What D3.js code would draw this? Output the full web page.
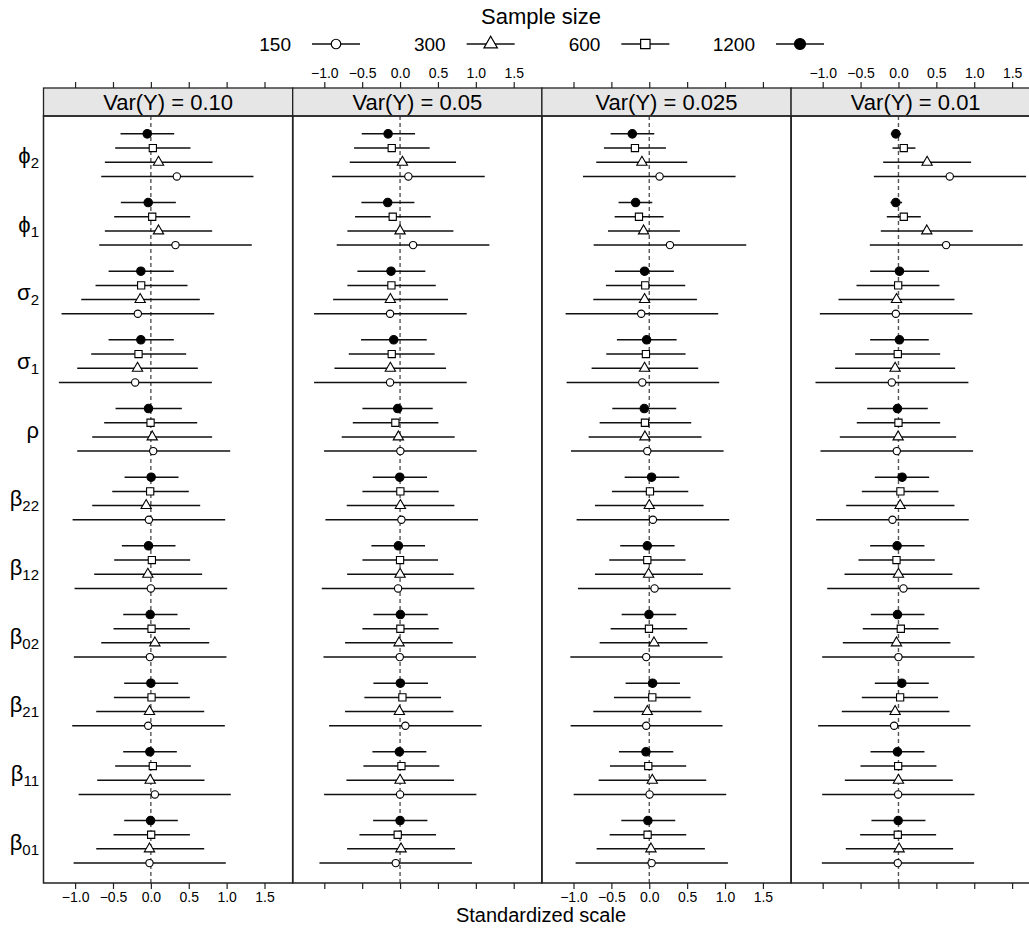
<!DOCTYPE html>
<html><head><meta charset="utf-8">
<script src="https://cdn.jsdelivr.net/npm/d3@7"></script>
<style>body{margin:0;background:#fff}svg{display:block}text{font-family:"Liberation Sans",Arial,Helvetica,sans-serif;fill:#000}</style>
</head><body><svg id="c" width="1029" height="930"></svg>
<script>
// ---------- data ----------
const panels = ["Var(Y) = 0.10", "Var(Y) = 0.05", "Var(Y) = 0.025", "Var(Y) = 0.01"];
const paramBase = ["ϕ","ϕ","σ","σ","ρ","β","β","β","β","β","β"];
const paramSub  = ["2","1","2","1","","22","12","02","21","11","01"];
const sizes = ["150","300","600","1200"];
// rows within each parameter group, top to bottom
const rowSizes = ["1200","600","300","150"];
const xTicks = [-1.0,-0.5,0.0,0.5,1.0,1.5];

// each row: [1200, 600, 300, 150]
const est0 = [[-0.048,0.026,0.101,0.343],[-0.035,0.018,0.101,0.325],[-0.132,-0.128,-0.141,-0.172],[-0.132,-0.163,-0.176,-0.207],[-0.031,-0.004,0.018,0.031],[0.004,-0.009,-0.062,-0.026],[-0.031,0.013,-0.040,0.000],[-0.009,0.009,0.053,-0.013],[0.000,0.009,-0.018,-0.035],[-0.013,0.026,-0.009,0.053],[-0.004,0.004,-0.018,-0.018]];
const lo0  = [[-0.400,-0.471,-0.607,-0.655],[-0.396,-0.484,-0.607,-0.682],[-0.558,-0.730,-0.919,-1.179],[-0.558,-0.787,-0.972,-1.214],[-0.466,-0.616,-0.774,-0.972],[-0.347,-0.510,-0.774,-1.033],[-0.383,-0.484,-0.748,-1.007],[-0.365,-0.493,-0.655,-1.016],[-0.352,-0.488,-0.721,-1.038],[-0.365,-0.471,-0.708,-0.954],[-0.352,-0.493,-0.721,-1.020]];
const hi0  = [[0.308,0.523,0.814,1.354],[0.330,0.519,0.809,1.332],[0.303,0.484,0.646,0.836],[0.303,0.466,0.620,0.805],[0.409,0.611,0.809,1.047],[0.365,0.501,0.651,0.981],[0.325,0.519,0.677,1.007],[0.352,0.515,0.770,0.998],[0.361,0.515,0.704,0.976],[0.343,0.528,0.708,1.055],[0.356,0.515,0.704,0.989]];

const est1 = [[-0.158,-0.110,0.031,0.110],[-0.163,-0.097,0.000,0.172],[-0.119,-0.114,-0.128,-0.132],[-0.084,-0.110,-0.128,-0.132],[-0.031,-0.062,-0.022,0.004],[-0.004,0.004,0.004,0.018],[-0.022,0.000,0.000,-0.026],[0.004,0.004,-0.013,-0.004],[0.004,0.031,-0.009,0.070],[-0.009,0.018,0.000,0.000],[0.000,-0.031,0.013,-0.057]];
const lo1  = [[-0.506,-0.607,-0.664,-0.897],[-0.510,-0.594,-0.695,-0.836],[-0.563,-0.695,-0.884,-1.135],[-0.515,-0.677,-0.866,-1.135],[-0.497,-0.624,-0.770,-1.003],[-0.361,-0.497,-0.704,-0.985],[-0.378,-0.497,-0.699,-1.033],[-0.352,-0.497,-0.726,-1.011],[-0.352,-0.471,-0.726,-0.937],[-0.365,-0.484,-0.708,-1.003],[-0.356,-0.536,-0.699,-1.064]];
const hi1  = [[0.198,0.391,0.739,1.117],[0.189,0.405,0.704,1.179],[0.334,0.471,0.633,0.880],[0.352,0.457,0.607,0.880],[0.431,0.506,0.721,1.011],[0.356,0.510,0.717,1.029],[0.330,0.501,0.708,0.981],[0.365,0.510,0.695,1.003],[0.369,0.541,0.704,1.077],[0.347,0.519,0.712,1.007],[0.361,0.475,0.726,0.950]];

const est2 = [[-0.224,-0.189,-0.097,0.136],[-0.180,-0.136,-0.075,0.273],[-0.062,-0.053,-0.062,-0.106],[-0.035,-0.044,-0.062,-0.092],[-0.066,-0.057,-0.057,-0.026],[0.031,0.009,0.000,0.048],[-0.026,-0.026,-0.009,0.070],[-0.004,-0.004,0.062,-0.040],[0.044,0.040,-0.026,-0.040],[-0.044,-0.013,0.040,0.004],[-0.018,-0.022,0.022,0.031]];
const lo2  = [[-0.510,-0.598,-0.699,-0.875],[-0.405,-0.457,-0.545,-0.734],[-0.453,-0.572,-0.739,-1.104],[-0.427,-0.567,-0.761,-1.091],[-0.488,-0.655,-0.800,-1.033],[-0.325,-0.493,-0.717,-0.959],[-0.383,-0.528,-0.717,-0.941],[-0.365,-0.510,-0.655,-1.042],[-0.312,-0.466,-0.739,-1.038],[-0.400,-0.519,-0.668,-0.998],[-0.369,-0.523,-0.695,-0.972]];
const hi2  = [[0.066,0.220,0.501,1.139],[0.040,0.189,0.405,1.280],[0.325,0.475,0.629,0.910],[0.361,0.479,0.646,0.923],[0.356,0.554,0.690,0.981],[0.396,0.515,0.717,1.055],[0.334,0.479,0.708,1.073],[0.356,0.501,0.770,0.967],[0.405,0.545,0.690,0.967],[0.317,0.488,0.752,1.016],[0.343,0.488,0.734,1.038]];

const est3 = [[-0.035,0.070,0.378,0.677],[-0.035,0.070,0.374,0.629],[0.013,-0.004,-0.026,-0.035],[0.013,-0.009,-0.044,-0.088],[-0.013,0.000,-0.004,-0.022],[0.048,0.026,0.022,-0.079],[-0.018,-0.026,0.000,0.066],[-0.013,0.031,-0.026,0.000],[0.044,0.022,-0.044,-0.057],[-0.013,-0.004,0.000,-0.004],[-0.004,-0.009,0.009,-0.009]];
const lo3  = [[-0.101,-0.079,-0.202,-0.325],[-0.106,-0.154,-0.233,-0.378],[-0.374,-0.554,-0.792,-1.038],[-0.374,-0.572,-0.836,-1.095],[-0.413,-0.550,-0.774,-1.029],[-0.312,-0.484,-0.690,-1.086],[-0.374,-0.528,-0.712,-0.941],[-0.365,-0.471,-0.734,-1.007],[-0.312,-0.484,-0.748,-1.060],[-0.369,-0.501,-0.708,-1.007],[-0.356,-0.506,-0.695,-1.011]];
const hi3  = [[0.035,0.224,0.959,1.684],[0.048,0.295,0.981,1.640],[0.405,0.541,0.739,0.976],[0.400,0.550,0.748,0.923],[0.387,0.550,0.761,0.985],[0.405,0.528,0.739,0.928],[0.343,0.479,0.712,1.069],[0.343,0.528,0.686,1.003],[0.400,0.523,0.673,0.950],[0.343,0.501,0.717,1.003],[0.356,0.497,0.721,0.998]];

const estAll = [est0, est1, est2, est3];
const loAll  = [lo0, lo1, lo2, lo3];
const hiAll  = [hi0, hi1, hi2, hi3];

// ---------- layout ----------
const svg = d3.select("#c");
const panelLeft0 = 43.5, panelW = 249.2, panelTop = 116, panelBottom = 883, stripTop = 88;
const rowOffset = {"1200": -0.31, "600": -0.103, "300": 0.103, "150": 0.31};
const y = d3.scaleLinear().domain([-0.57, 10.6]).range([panelTop, panelBottom]);
const fmt = d3.format(".1f");

const symFor = {
  "150":  {type: d3.symbolCircle,   size: 42, fill: "none"},
  "300":  {type: d3.symbolTriangle, size: 46, fill: "none"},
  "600":  {type: d3.symbolSquare,   size: 52, fill: "none"},
  "1200": {type: d3.symbolCircle,   size: 56, fill: "#000"}
};

panels.forEach((title, p) => {
  const x0 = panelLeft0 + p * panelW;
  const x = d3.scaleLinear().domain([-1.417, 1.872]).range([x0, x0 + panelW]);
  const g = svg.append("g");

  // strip
  g.append("rect").attr("x", x0).attr("y", stripTop).attr("width", panelW).attr("height", panelTop - stripTop)
    .attr("fill", "#e6e6e6").attr("stroke", "#222").attr("stroke-width", 1.3);
  g.append("text").attr("x", x0 + panelW / 2).attr("y", 110).attr("text-anchor", "middle")
    .style("font-size", "22px").text(title);

  // reference line at 0
  g.append("line").attr("x1", x(0)).attr("x2", x(0)).attr("y1", panelTop).attr("y2", panelBottom)
    .attr("stroke", "#555").attr("stroke-width", 1.4).attr("stroke-dasharray", "4,3");

  // data rows
  paramBase.forEach((_, i) => {
    rowSizes.forEach((s, k) => {
      const yy = y(i + rowOffset[s]);
      const lo = loAll[p][i][k], hi = hiAll[p][i][k], e = estAll[p][i][k];
      g.append("line").attr("x1", x(lo)).attr("x2", x(hi)).attr("y1", yy).attr("y2", yy)
        .attr("stroke", "#111").attr("stroke-width", 1.5);
      const sf = symFor[s];
      g.append("path").attr("d", d3.symbol().type(sf.type).size(sf.size)())
        .attr("transform", `translate(${x(e)},${yy})`)
        .attr("fill", sf.fill === "none" ? "#fff" : sf.fill).attr("stroke", "#000").attr("stroke-width", 1.1);
    });
  });

  // panel border
  g.append("rect").attr("x", x0).attr("y", panelTop).attr("width", panelW).attr("height", panelBottom - panelTop)
    .attr("fill", "none").attr("stroke", "#222").attr("stroke-width", 1.5);

  // bottom axis
  const bottom = g.append("g").attr("transform", `translate(0,${panelBottom})`)
    .call(d3.axisBottom(x).tickValues(xTicks).tickSize(6).tickPadding(3).tickFormat(p % 2 === 0 ? fmt : () => ""));
  // top axis
  const top = g.append("g").attr("transform", `translate(0,${stripTop})`)
    .call(d3.axisTop(x).tickValues(xTicks).tickSize(6).tickPadding(4).tickFormat(p % 2 === 1 ? fmt : () => ""));
  [bottom, top].forEach(a => {
    a.select(".domain").remove();
    a.selectAll(".tick line").attr("stroke", "#222").attr("stroke-width", 1.2);
    a.selectAll("text").style("font-size", "14px").style("font-family", '"Liberation Sans",Arial,sans-serif').attr("fill", "#000");
  });
});

// y labels
paramBase.forEach((b, i) => {
  const t = svg.append("text").attr("x", 39).attr("y", y(i) + 8).attr("text-anchor", "end").style("font-size", "22px");
  t.append("tspan").text(b);
  if (paramSub[i]) t.append("tspan").attr("dy", 5).style("font-size", "15px").text(paramSub[i]);
});

// legend
svg.append("text").attr("x", 541).attr("y", 24).attr("text-anchor", "middle").style("font-size", "22px").text("Sample size");
const legX = d3.scalePoint().domain(sizes).range([336, 800]);
sizes.forEach(s => {
  const cx = legX(s), ly = 44;
  svg.append("text").attr("x", cx - 45).attr("y", ly + 7).attr("text-anchor", "end").style("font-size", "19px").text(s);
  svg.append("line").attr("x1", cx - 24).attr("x2", cx + 24).attr("y1", ly).attr("y2", ly).attr("stroke", "#111").attr("stroke-width", 1.5);
  const sf = symFor[s];
  svg.append("path").attr("d", d3.symbol().type(sf.type).size(sf.size * 1.7)())
    .attr("transform", `translate(${cx},${ly})`)
    .attr("fill", sf.fill === "none" ? "#fff" : sf.fill).attr("stroke", "#000").attr("stroke-width", 1.2);
});

// x axis title
svg.append("text").attr("x", 541).attr("y", 922).attr("text-anchor", "middle").style("font-size", "20px").text("Standardized scale");
</script></body></html>
